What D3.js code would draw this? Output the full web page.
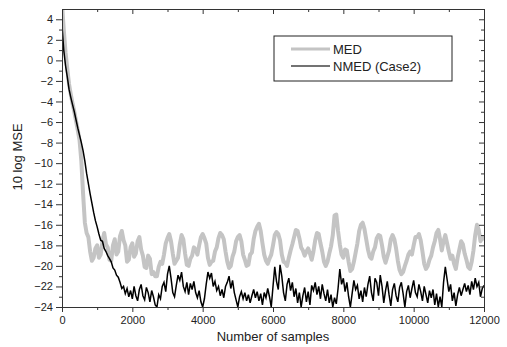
<!DOCTYPE html>
<html>
<head>
<meta charset="utf-8">
<script src="https://cdn.jsdelivr.net/npm/d3@7"></script>
<style>
  body { margin: 0; background: #fff; }
  svg { display: block; font-family: Arial, "Liberation Sans", sans-serif; }
</style>
</head>
<body>
<figure id="mse" style="margin:0"></figure>
<script>
// MED curve, one value every 50 samples (0 .. 12000)
const medStep = 50;
const medValues = [
  5.5, 3.0, 0.8, -0.8, -2.3, -3.3, -4.2, -5.0, -5.9, -6.8, -7.8, -9.8, -13.0, -15.8, -16.8, -17.2, -18.6, -19.5, -19.2, -18.3,
  -18.0, -19.2, -18.9, -17.6, -16.8, -17.9, -18.2, -19.4, -19.5, -18.0,
  -17.4, -18.9, -18.6, -17.1, -16.6, -17.5, -18.0, -19.6, -19.4, -18.2,
  -17.8, -19.1, -18.8, -17.6, -17.2, -18.4, -19.0, -20.1, -20.2, -19.0,
  -19.3, -20.8, -20.6, -21.0, -21.0, -20.1, -19.6, -19.8, -18.9, -17.8,
  -17.3, -16.9, -17.6, -18.8, -19.8, -19.5, -19.2, -17.9, -17.0, -17.4,
  -18.8, -19.9, -20.0, -19.3, -19.0, -18.2, -18.4, -18.9, -18.0, -17.2,
  -16.9, -17.3, -17.8, -19.2, -19.9, -19.6, -19.5, -18.6, -18.2, -17.3,
  -16.8, -17.0, -17.4, -18.6, -19.6, -20.2, -20.0, -19.1, -18.6, -17.6,
  -17.2, -17.0, -17.6, -18.9, -19.4, -20.0, -19.9, -18.9, -18.7, -17.4,
  -16.6, -16.2, -15.9, -16.6, -17.8, -18.9, -19.5, -19.8, -19.3, -18.9,
  -18.0, -17.0, -16.7, -16.9, -17.5, -18.9, -19.6, -19.7, -20.0, -19.2,
  -18.5, -17.9, -17.2, -16.5, -16.6, -17.3, -18.2, -18.5, -19.0, -18.6,
  -18.3, -18.8, -19.4, -18.6, -17.5, -16.8, -16.9, -17.8, -18.6, -19.6,
  -20.0, -19.6, -18.8, -18.1, -17.0, -15.1, -15.0, -16.6, -17.9, -18.9,
  -19.2, -18.4, -18.5, -19.6, -20.5, -20.3, -19.6, -18.7, -17.8, -16.6,
  -16.0, -15.8, -16.4, -17.4, -18.4, -19.1, -19.3, -18.6, -18.2, -17.3,
  -17.0, -17.1, -18.0, -19.1, -19.7, -19.1, -18.5, -17.4, -17.0, -17.4,
  -18.3, -19.5, -20.4, -20.8, -20.6, -20.0, -19.5, -18.9, -18.6, -18.9,
  -18.0, -17.2, -17.2, -16.9, -17.5, -18.6, -19.8, -20.3, -20.0, -19.4,
  -19.0, -18.2, -17.6, -16.8, -16.5, -17.4, -18.5, -17.6, -17.0, -17.8,
  -18.6, -19.3, -19.0, -19.8, -20.3, -19.2, -18.4, -17.6, -17.9, -18.8,
  -19.4, -20.1, -20.3, -19.6, -18.5, -17.0, -16.0, -16.5, -17.6, -17.2,
  -17.5
];

// NMED (Case2) curve, one value every 50 samples (0 .. 12000)
const nmedStep = 50;
const nmedValues = [
  3.4, 1.0, -0.5, -1.6, -2.8, -3.6, -4.3, -5.0, -5.8, -6.6,
  -7.3, -8.0, -8.8, -9.8, -11.0, -12.0, -13.0, -13.9, -14.8, -15.6,
  -16.2, -16.9, -17.5, -17.6, -18.3, -18.6, -19.0, -19.3, -19.6, -20.2,
  -20.4, -20.9, -21.1, -21.6, -22.2, -22.0, -22.7, -22.2, -23.0, -22.4,
  -23.2, -22.0, -22.9, -23.4, -22.3, -21.8, -22.9, -23.3, -22.1, -22.6,
  -23.5, -22.4, -23.0, -23.8, -24.0, -22.8, -23.2, -22.0, -21.6, -22.5,
  -20.8, -20.0, -21.2, -22.6, -23.0, -21.9, -20.9, -21.4, -20.6, -22.0,
  -22.5, -21.6, -22.8, -21.7, -22.3, -21.5, -22.6, -23.1, -22.4, -23.5,
  -24.0, -23.2, -21.8, -20.6, -21.2, -20.7, -22.0, -21.5, -22.4, -22.0,
  -22.9, -22.3, -23.1, -22.0, -21.6, -21.0, -22.2, -21.4, -22.6, -23.3,
  -24.0, -23.0, -22.5, -23.2, -22.6, -23.4, -22.8, -23.6, -22.9, -22.3,
  -23.1, -22.5, -23.4, -22.7, -23.8, -22.6, -23.1, -22.2, -23.0, -24.0,
  -22.0, -20.1, -21.5, -22.3, -19.9, -21.0, -22.6, -23.4, -21.8, -21.2,
  -22.4, -21.6, -23.0, -22.2, -23.6, -22.6, -24.0, -22.9, -22.1, -23.5,
  -22.5, -23.8, -21.9, -22.4, -21.6, -22.8, -22.0, -23.2, -21.8, -22.7,
  -23.4, -22.3, -23.6, -22.8, -24.0, -23.1, -23.7, -22.2, -20.3, -21.8,
  -21.2, -22.5, -21.6, -23.0, -24.0, -22.7, -21.4, -22.3, -21.9, -23.2,
  -22.4, -23.5, -22.1, -23.0, -21.8, -21.0, -22.6, -23.4, -21.2, -21.6,
  -22.9, -20.9, -22.0, -23.6, -22.4, -21.5, -22.8, -23.9, -22.3, -21.7,
  -22.9, -23.5, -22.1, -21.6, -22.7, -24.0, -22.5, -21.9, -23.1, -22.2,
  -21.4, -22.6, -23.0, -21.8, -22.5, -23.4, -22.0, -22.8, -23.6, -22.4,
  -23.1, -22.3, -23.8, -22.7, -24.0, -23.0, -24.0, -21.6, -20.1, -21.3,
  -22.5, -21.8, -23.4, -22.6, -23.9, -22.8, -22.1, -22.9, -22.3, -21.7,
  -22.5, -21.9, -22.8, -21.5, -22.3, -21.2, -22.0, -21.6, -23.0, -22.2,
  -21.9
];

const xMajorTicks = [0, 2000, 4000, 6000, 8000, 10000, 12000];
const yMajorTicks = [4, 2, 0, -2, -4, -6, -8, -10, -12, -14, -16, -18, -20, -22, -24];
const seriesNames = ["MED", "NMED (Case2)"];

const width = 507, height = 347;
const margin = { top: 9, right: 23, bottom: 40, left: 62 };

const svg = d3.select("figure#mse")
  .append("svg")
  .attr("width", width)
  .attr("height", height);

const x = d3.scaleLinear().domain([0, 12000]).range([margin.left, width - margin.right]);
const y = d3.scaleLinear().domain([-24, 5]).range([height - margin.bottom, margin.top]);

const medData = medValues.map((v, i) => [i * medStep, v]);
const nmedData = nmedValues.map((v, i) => [i * nmedStep, v]);

svg.append("clipPath").attr("id", "plot")
  .append("rect")
  .attr("x", margin.left).attr("y", margin.top)
  .attr("width", x.range()[1] - margin.left)
  .attr("height", y.range()[0] - margin.top);

const line = d3.line().x(d => x(d[0])).y(d => y(d[1]));

const lines = svg.append("g").attr("clip-path", "url(#plot)");
lines.append("path")
  .datum(medData)
  .attr("fill", "none")
  .attr("stroke", "#c4c4c4")
  .attr("stroke-width", 4)
  .attr("stroke-linejoin", "round")
  .attr("d", line);
lines.append("path")
  .datum(nmedData)
  .attr("fill", "none")
  .attr("stroke", "#000")
  .attr("stroke-width", 1.5)
  .attr("d", line);

// axes: outward ticks left/bottom, inward ticks top/right
const minorX = d3.range(1000, 12000, 2000);
const minorY = d3.range(-23, 5, 2);
const axisColor = "#333";

function styleAxis(g) {
  g.select(".domain").attr("stroke", axisColor);
  g.selectAll(".tick line").attr("stroke", axisColor);
  g.selectAll(".tick text").attr("fill", "#222").attr("font-size", 11);
}

svg.append("g")
  .attr("transform", `translate(${margin.left},0)`)
  .call(d3.axisLeft(y).tickValues(yMajorTicks).tickSize(6).tickSizeOuter(0).tickPadding(3))
  .call(styleAxis);
svg.append("g")
  .attr("transform", `translate(${margin.left},0)`)
  .call(d3.axisLeft(y).tickValues(minorY).tickSize(3).tickFormat(""))
  .call(g => g.select(".domain").remove())
  .call(styleAxis);

svg.append("g")
  .attr("transform", `translate(0,${y(-24)})`)
  .call(d3.axisBottom(x).tickValues(xMajorTicks).tickSize(5).tickSizeOuter(0).tickPadding(4).tickFormat(d3.format("d")))
  .call(styleAxis);
svg.append("g")
  .attr("transform", `translate(0,${y(-24)})`)
  .call(d3.axisBottom(x).tickValues(minorX).tickSize(3).tickFormat(""))
  .call(g => g.select(".domain").remove())
  .call(styleAxis);

svg.append("g")
  .attr("transform", `translate(0,${margin.top})`)
  .call(d3.axisTop(x).tickValues(xMajorTicks).tickSize(-5).tickSizeOuter(0).tickFormat(""))
  .call(styleAxis);
svg.append("g")
  .attr("transform", `translate(0,${margin.top})`)
  .call(d3.axisTop(x).tickValues(minorX).tickSize(-3).tickFormat(""))
  .call(g => g.select(".domain").remove())
  .call(styleAxis);

svg.append("g")
  .attr("transform", `translate(${x(12000)},0)`)
  .call(d3.axisRight(y).tickValues(yMajorTicks).tickSize(-5).tickSizeOuter(0).tickFormat(""))
  .call(styleAxis);
svg.append("g")
  .attr("transform", `translate(${x(12000)},0)`)
  .call(d3.axisRight(y).tickValues(minorY).tickSize(-3).tickFormat(""))
  .call(g => g.select(".domain").remove())
  .call(styleAxis);

// axis titles
svg.append("text")
  .attr("x", (margin.left + x(12000)) / 2)
  .attr("y", 341)
  .attr("text-anchor", "middle")
  .attr("font-size", 13)
  .attr("fill", "#222")
  .text("Number of samples");

svg.append("text")
  .attr("transform", `translate(22,157) rotate(-90)`)
  .attr("text-anchor", "middle")
  .attr("font-size", 13)
  .attr("fill", "#222")
  .text("10 log MSE");

// legend
const legend = svg.append("g").attr("transform", "translate(274,36)");
legend.append("rect")
  .attr("width", 178).attr("height", 45)
  .attr("fill", "#fff").attr("stroke", "#222").attr("stroke-width", 1);
const legendStyles = [
  { stroke: "#c4c4c4", width: 3 },
  { stroke: "#444", width: 1.3 }
];
seriesNames.forEach((name, i) => {
  const row = legend.append("g").attr("transform", `translate(0,${13 + i * 17})`);
  row.append("line")
    .attr("x1", 17).attr("x2", 56)
    .attr("stroke", legendStyles[i].stroke)
    .attr("stroke-width", legendStyles[i].width);
  row.append("text")
    .attr("x", 59).attr("y", 5)
    .attr("font-size", 13)
    .attr("fill", "#222")
    .text(name);
});
</script>
</body>
</html>
